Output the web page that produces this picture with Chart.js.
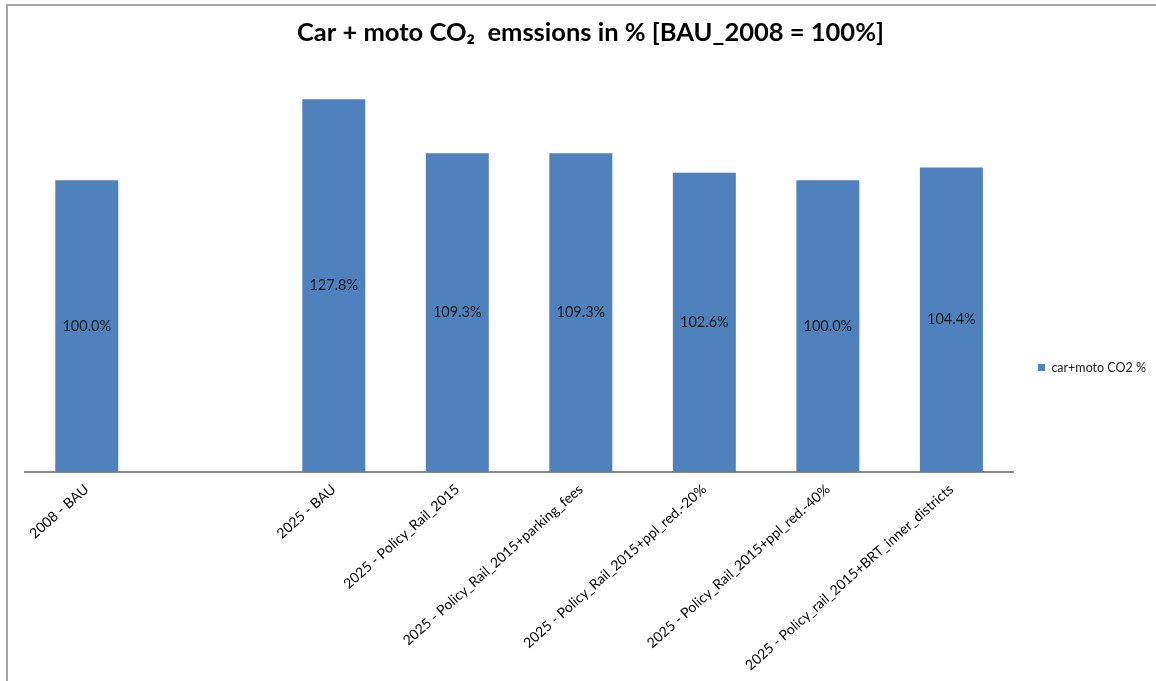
<!DOCTYPE html>
<html>
<head>
<meta charset="utf-8">
<style>
  html, body { margin: 0; padding: 0; background: #ffffff; }
  #wrap { position: relative; width: 1156px; height: 681px; }
</style>
<script src="https://cdn.jsdelivr.net/npm/chart.js@4.4.1/dist/chart.umd.min.js"></script>
</head>
<body>
<div id="wrap"><canvas id="c" width="1156" height="681"></canvas></div>
<script>
// ---- data ----
const categories = [
  "2008 - BAU",
  "",
  "2025 - BAU",
  "2025 - Policy_Rail_2015",
  "2025 - Policy_Rail_2015+parking_fees",
  "2025 - Policy_Rail_2015+ppl_red.-20%",
  "2025 - Policy_Rail_2015+ppl_red.-40%",
  "2025 - Policy_rail_2015+BRT_inner_districts"
];
const co2Percent = [100.0, null, 127.8, 109.3, 109.3, 102.6, 100.0, 104.4];
const seriesName = "car+moto CO2 %";
const chartTitle = "Car + moto CO\u2082  emssions in % [BAU_2008 = 100%]";
const yMin = 0;
const yMax = 140;

const FONT = "Lato, 'Open Sans', 'DejaVu Sans', sans-serif";

const framePlugin = {
  id: 'frame',
  beforeDraw(chart) {
    const ctx = chart.ctx;
    ctx.save();
    ctx.fillStyle = '#ffffff';
    ctx.fillRect(0, 0, chart.width, chart.height);
    ctx.strokeStyle = '#a6a6a6';
    ctx.lineWidth = 2;
    ctx.beginPath();
    ctx.moveTo(chart.width + 2, 5);
    ctx.lineTo(7, 5);
    ctx.lineTo(7, chart.height + 2);
    ctx.stroke();
    ctx.restore();
  }
};

const valueLabelPlugin = {
  id: 'valueLabels',
  afterDatasetsDraw(chart) {
    const ctx = chart.ctx;
    const meta = chart.getDatasetMeta(0);
    const data = chart.data.datasets[0].data;
    ctx.save();
    ctx.font = "14.5px " + FONT;
    ctx.fillStyle = '#1a1a1a';
    ctx.textAlign = 'center';
    ctx.textBaseline = 'middle';
    meta.data.forEach((el, i) => {
      const v = data[i];
      if (v === null || v === undefined) return;
      const y = (el.y + el.base) / 2;
      ctx.fillText(v.toFixed(1) + '%', el.x, y);
    });
    ctx.restore();
  }
};

new Chart(document.getElementById('c'), {
  type: 'bar',
  data: {
    labels: categories,
    datasets: [{
      label: seriesName,
      data: co2Percent,
      backgroundColor: '#4f81bd',
      borderWidth: 0,
      categoryPercentage: 1.0,
      barPercentage: 0.51
    }]
  },
  options: {
    responsive: false,
    animation: false,
    devicePixelRatio: 1,
    layout: { padding: { left: 25, right: 0, top: 0, bottom: 0 } },
    plugins: {
      title: {
        display: true,
        text: chartTitle,
        color: '#000000',
        font: { family: FONT, size: 25.5, weight: 'bold' },
        padding: { top: 17, bottom: 16 }
      },
      legend: {
        display: true,
        position: 'right',
        maxWidth: 144,
        title: {
          display: true,
          text: ' ',
          font: { family: FONT, size: 10 },
          padding: { top: 21, bottom: 21 }
        },
        labels: {
          boxWidth: 7,
          boxHeight: 7,
          padding: 25,
          color: '#1a1a1a',
          font: { family: FONT, size: 12.5 }
        }
      },
      tooltip: { enabled: false }
    },
    scales: {
      x: {
        grid: { display: false, drawTicks: false },
        border: { display: true, color: '#898989', width: 2 },
        ticks: {
          color: '#000000',
          font: { family: FONT, size: 14 },
          minRotation: 41.5,
          maxRotation: 41.5,
          autoSkip: false,
          labelOffset: 0,
          padding: 9
        },
        afterFit(scale) { scale.height = 209; }
      },
      y: {
        display: false,
        min: yMin,
        max: yMax
      }
    }
  },
  plugins: [framePlugin, valueLabelPlugin]
});
</script>
</body>
</html>
